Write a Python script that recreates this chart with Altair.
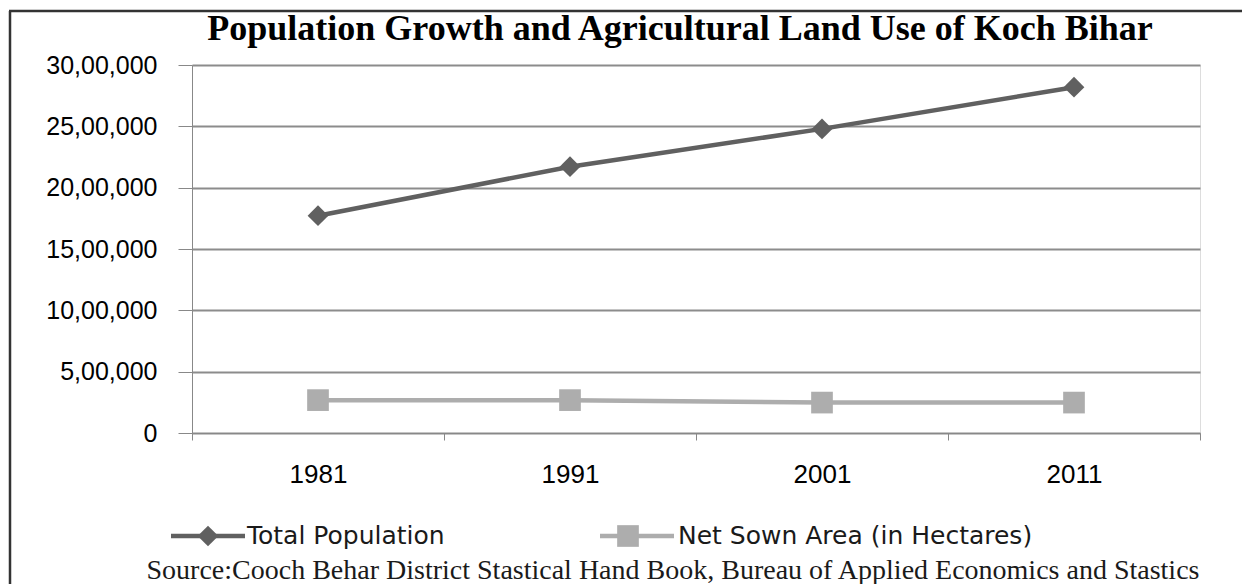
import altair as alt
import pandas as pd

# ---- data ----
YEARS = ["1981", "1991", "2001", "2011"]
SERIES = ["Total Population", "Net Sown Area (in Hectares)"]
TOTAL_POPULATION = [1771643, 2171145, 2479155, 2819086]
NET_SOWN_AREA = [268000, 268000, 248000, 248000]
Y_TICKS = [0, 500000, 1000000, 1500000, 2000000, 2500000, 3000000]
TITLE = "Population Growth and Agricultural Land Use of Koch Bihar"
SOURCE = "Source:Cooch Behar District Stastical Hand Book, Bureau of Applied Economics and Stastics"

COLORS = ["#606060", "#adadad"]
SHAPES = ["diamond", "square"]
SIZES = [430, 470]

rows = []
for name, vals in zip(SERIES, [TOTAL_POPULATION, NET_SOWN_AREA]):
    for yr, v in zip(YEARS, vals):
        rows.append({"year": yr, "series": name, "value": v})
df = pd.DataFrame(rows)

W, H = 1008, 368
GRID = "#8c8c8c"
SANS = "DejaVu Sans"
SERIF = "Liberation Serif"

color_scale = alt.Scale(domain=SERIES, range=COLORS)
shape_scale = alt.Scale(domain=SERIES, range=SHAPES)
size_scale = alt.Scale(domain=SERIES, range=SIZES)

x_enc = alt.X(
    "year:O",
    scale=alt.Scale(type="band", paddingInner=0, paddingOuter=0),
    bandPosition=0.5,
    sort=YEARS,
    axis=alt.Axis(
        title=None, grid=False, tickBand="extent", tickSize=7, labelAngle=0,
        labelFontSize=26, labelBaseline="alphabetic", labelPadding=42,
    ),
)
y_enc = alt.Y(
    "value:Q",
    scale=alt.Scale(domain=[0, 3000000], nice=False),
    axis=alt.Axis(
        title=None, values=Y_TICKS, grid=True, gridColor=GRID, gridWidth=2, gridOpacity=1,
        tickSize=14, labelPadding=21, labelFontSize=25,
        labelExpr="datum.value == 0 ? '0' : format(floor(datum.value/100000), 'd') + ',' + "
                  "format(floor((datum.value % 100000)/1000), '02d') + ',' + format(datum.value % 1000, '03d')",
    ),
)

lines = alt.Chart(df).mark_line(strokeWidth=4.5).encode(
    x=x_enc, y=y_enc,
    color=alt.Color("series:N", scale=color_scale, legend=None),
    detail="series:N",
)
points = alt.Chart(df).mark_point(filled=True, opacity=1).encode(
    x=x_enc, y=y_enc,
    color=alt.Color("series:N", scale=color_scale, legend=None),
    shape=alt.Shape("series:N", scale=shape_scale, legend=None),
    size=alt.Size("series:N", scale=size_scale, legend=None),
)

# ---- decorations: frame, title, legend, source ----
one = pd.DataFrame({"k": [0]})
frame_left = alt.Chart(one).mark_rule(color="#333333", strokeWidth=2.5).encode(
    x=alt.value(-182), x2=alt.value(-182), y=alt.value(-54), y2=alt.value(530))
frame_top = alt.Chart(one).mark_rule(color="#333333", strokeWidth=2.5).encode(
    x=alt.value(-183), x2=alt.value(1060), y=alt.value(-54), y2=alt.value(-54))

title = alt.Chart(pd.DataFrame({"t": [TITLE]})).mark_text(
    font=SERIF, fontWeight="bold", fontSize=36, color="#000000",
    align="center", baseline="alphabetic").encode(
    text="t:N", x=alt.value(488), y=alt.value(-25))

source = alt.Chart(pd.DataFrame({"t": [SOURCE]})).mark_text(
    font=SERIF, fontSize=28, color="#1a1a1a",
    align="center", baseline="alphabetic").encode(
    text="t:N", x=alt.value(481), y=alt.value(514))

LEG_Y = 471
LEG_X1 = [-21, 408]
LEG_X2 = [53, 482]
LEG_MX = [16, 436]
LEG_TX = [55, 486]
legend_layers = []
for i, name in enumerate(SERIES):
    d = pd.DataFrame({"series": [name]})
    c = alt.Color("series:N", scale=color_scale, legend=None)
    legend_layers.append(alt.Chart(d).mark_rule(strokeWidth=4.5).encode(
        color=c, x=alt.value(LEG_X1[i]), x2=alt.value(LEG_X2[i]),
        y=alt.value(LEG_Y), y2=alt.value(LEG_Y)))
    legend_layers.append(alt.Chart(d).mark_point(filled=True, opacity=1).encode(
        color=c,
        shape=alt.Shape("series:N", scale=shape_scale, legend=None),
        size=alt.Size("series:N", scale=size_scale, legend=None),
        x=alt.value(LEG_MX[i]), y=alt.value(LEG_Y)))
    legend_layers.append(alt.Chart(d).mark_text(
        font=SANS, fontSize=25, color="#1a1a1a", align="left", baseline="middle").encode(
        text="series:N", x=alt.value(LEG_TX[i]), y=alt.value(LEG_Y)))

chart = alt.layer(
    lines, points, frame_left, frame_top, title, source, *legend_layers
).properties(
    width=W, height=H,
    padding={"left": 184, "top": 57, "right": 42, "bottom": 151},
    autosize=alt.AutoSizeParams(type="none"),
).configure_axis(
    gridColor=GRID, gridWidth=2, gridOpacity=1, domainColor=GRID, domainWidth=2,
    tickColor=GRID, tickWidth=2, labelFont=SANS, labelColor="#1a1a1a",
).configure_view(strokeWidth=0).configure(background="#ffffff")

chart.save("out.html", embed_options={"renderer": "svg", "actions": False})
